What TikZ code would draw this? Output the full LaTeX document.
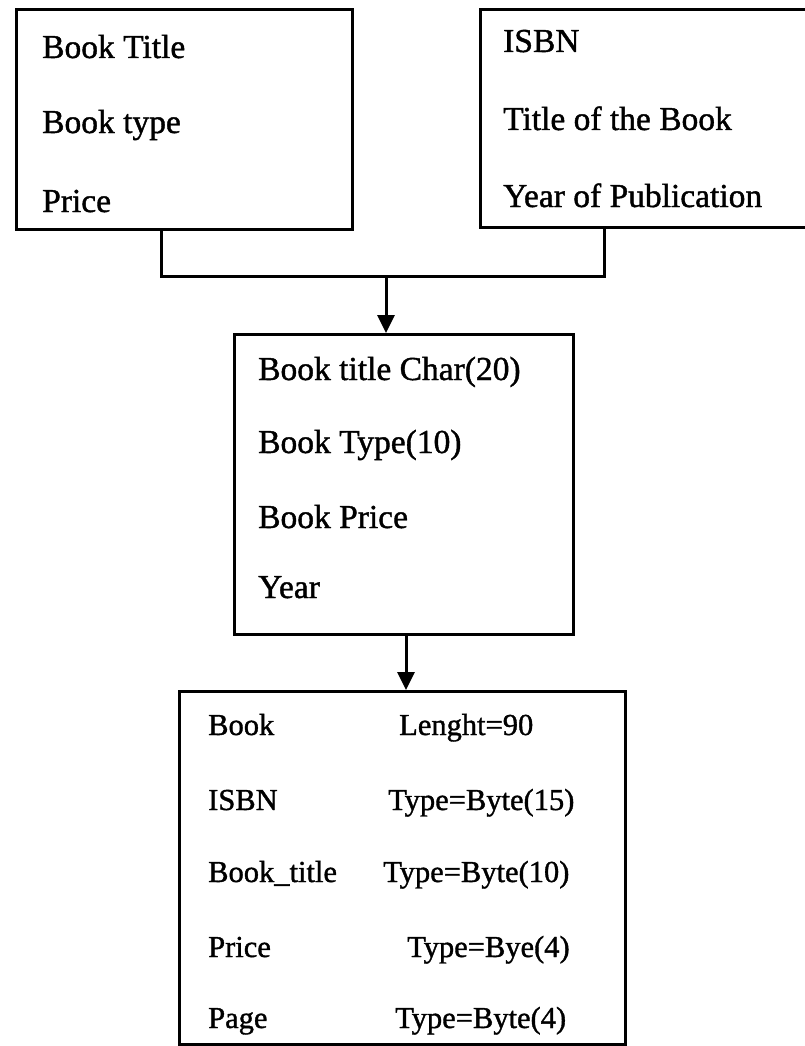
\documentclass[tikz,border=0pt]{standalone}
\usepackage{fontspec}
\setmainfont{Liberation Serif}
% slightly heavier strokes, like printed text
\newfontfamily\inkfont{Liberation Serif}[FakeBold=1.2]
\usetikzlibrary{arrows.meta}
\begin{document}
\begin{tikzpicture}[x=1pt,y=-1pt,
  box/.style={draw=black,line width=3pt,inner sep=0pt,anchor=north west},
  lbl/.style={anchor=base west,inner sep=0pt,font=\inkfont\fontsize{33.5}{36}\selectfont},
  lblsm/.style={anchor=base west,inner sep=0pt,font=\inkfont\fontsize{30.5}{34}\selectfont},
  link/.style={draw=black,line width=3pt},
  arr/.style={link,-{Triangle[length=18pt,width=17pt]}}]
\clip (0,0) rectangle (805,1046);
\fill[white] (0,0) rectangle (805,1046);

% source records
\node[box,minimum width=336pt,minimum height=220pt] (b1) at (15,8) {};
\node[box,minimum width=340pt,minimum height=218pt] (b2) at (479,8) {};
% merged record
\node[box,minimum width=339pt,minimum height=300pt] (b3) at (233,333) {};
% stored layout
\node[box,minimum width=446pt,minimum height=353pt] (b4) at (178,690) {};

% texts of the first record
\node[lbl] (t11) at (42,58)  {Book Title};
\node[lbl] (t12) at (42,133) {Book type};
\node[lbl] (t13) at (42,212) {Price};

% texts of the second record
\node[lbl] (t21) at (503,52)  {ISBN};
\node[lbl] (t22) at (503,130) {Title of the Book};
\node[lbl] (t23) at (503,207) {Year of Publication};

% texts of the merged record
\node[lbl] (t31) at (258,380) {Book title Char(20)};
\node[lbl] (t32) at (258,453) {Book Type(10)};
\node[lbl] (t33) at (258,528) {Book Price};
\node[lbl] (t34) at (258,598) {Year};

% field names and sizes
\node[lblsm] (f1) at (208,735)  {Book};
\node[lblsm] (f2) at (208,810)  {ISBN};
\node[lblsm] (f3) at (208,882)  {Book\_title};
\node[lblsm] (f4) at (208,957)  {Price};
\node[lblsm] (f5) at (208,1028) {Page};
\node[lblsm] (s1) at (399,735)  {Lenght=90};
\node[lblsm] (s2) at (388,810)  {Type=Byte(15)};
\node[lblsm] (s3) at (383,882)  {Type=Byte(10)};
\node[lblsm] (s4) at (407,957)  {Type=Bye(4)};
\node[lblsm] (s5) at (395,1028) {Type=Byte(4)};

% connectors
\coordinate (jl) at (161,276);
\coordinate (jr) at (604,276);
\coordinate (jm) at (386,276);
\coordinate (jd) at (406,633);
\draw[link,line join=miter] (b1.south -| jl) -- (jl) -- (jr) -- (b2.south -| jr);
\draw[arr] (jm) -- (b3.north -| jm);
\draw[arr] (b3.south -| jd) -- (b4.north -| jd);
\end{tikzpicture}
\end{document}
